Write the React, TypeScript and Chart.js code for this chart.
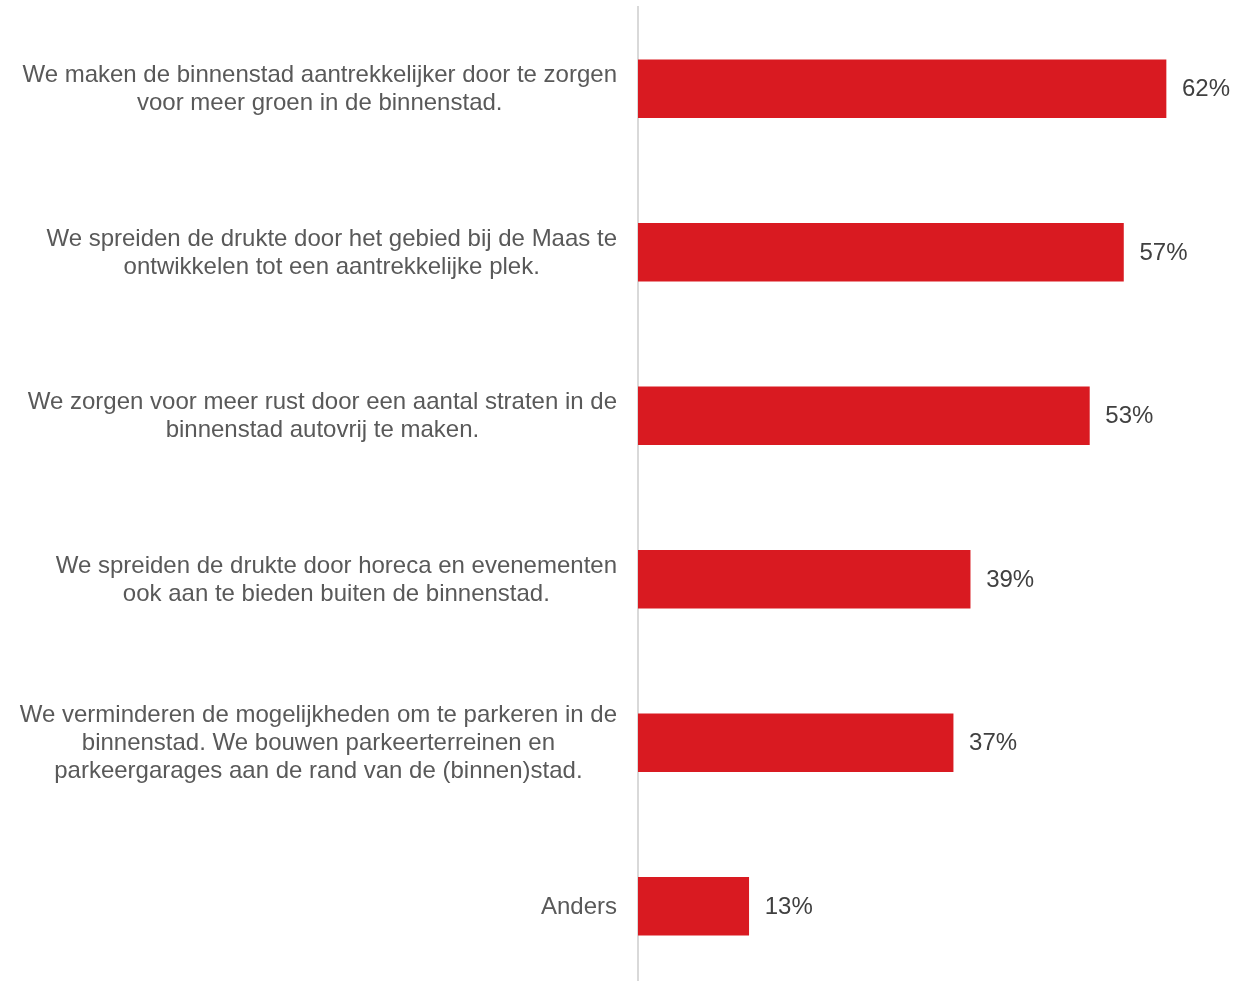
import React, { useEffect, useRef } from "react";
import { Chart, registerables } from "chart.js";

Chart.register(...registerables);

const categories: string[][] = [
  ["We maken de binnenstad aantrekkelijker door te zorgen", "voor meer groen in de binnenstad."],
  ["We spreiden de drukte door het gebied bij de Maas te", "ontwikkelen tot een aantrekkelijke plek."],
  ["We zorgen voor meer rust door een aantal straten in de", "binnenstad autovrij te maken."],
  ["We spreiden de drukte door horeca en evenementen", "ook aan te bieden buiten de binnenstad."],
  ["We verminderen de mogelijkheden om te parkeren in de", "binnenstad. We bouwen parkeerterreinen en", "parkeergarages aan de rand van de (binnen)stad."],
  ["Anders"],
];
const values: number[] = [62, 57, 53, 39, 37, 13];
const valueLabels: string[] = ["62%", "57%", "53%", "39%", "37%", "13%"];

const FONT = "24px 'Liberation Sans', Arial, sans-serif";

const labelPlugin = {
  id: "customLabels",
  afterDatasetsDraw(chart: any) {
    const ctx = chart.ctx;
    const y = chart.scales.y;
    const meta = chart.getDatasetMeta(0);
    ctx.save();
    ctx.font = FONT;
    ctx.textBaseline = "middle";
    categories.forEach((lines, i) => {
      const cy = y.getPixelForValue(i);
      const widths = lines.map((l) => ctx.measureText(l).width);
      const block = Math.max(...widths);
      const cx = 617 - block / 2;
      const lh = 28;
      ctx.fillStyle = "#595959";
      ctx.textAlign = "center";
      lines.forEach((l, j) => {
        ctx.fillText(l, cx, cy + 1 + (j - (lines.length - 1) / 2) * lh);
      });
      const bar = meta.data[i];
      ctx.fillStyle = "#404040";
      ctx.textAlign = "left";
      ctx.fillText(valueLabels[i], bar.x + 16, cy + 1);
    });
    ctx.restore();
  },
};

export default function App() {
  const ref = useRef<HTMLCanvasElement>(null);
  useEffect(() => {
    document.body.style.margin = "0";
    document.body.style.overflow = "hidden";
    const chart = new Chart(ref.current!, {
      type: "bar",
      data: {
        labels: categories.map((c) => c.join(" ")),
        datasets: [
          {
            data: values,
            backgroundColor: "#d91a21",
            barThickness: 58,
          },
        ],
      },
      options: {
        indexAxis: "y",
        animation: false,
        responsive: false,
        layout: { padding: { left: 638, top: 7, bottom: 2, right: 0 } },
        plugins: { legend: { display: false }, tooltip: { enabled: false } },
        scales: {
          x: { display: false, min: 0, max: 72.8 },
          y: {
            display: true,
            ticks: { display: false },
            grid: { display: false, drawTicks: false },
            border: { display: true, color: "#d9d9d9", width: 2 },
          },
        },
      },
      plugins: [labelPlugin],
    });
    return () => chart.destroy();
  }, []);
  return (
    <div style={{ width: 1258, height: 981, overflow: "hidden" }}>
      <canvas ref={ref} width={1258} height={990} style={{ display: "block" }} />
    </div>
  );
}
